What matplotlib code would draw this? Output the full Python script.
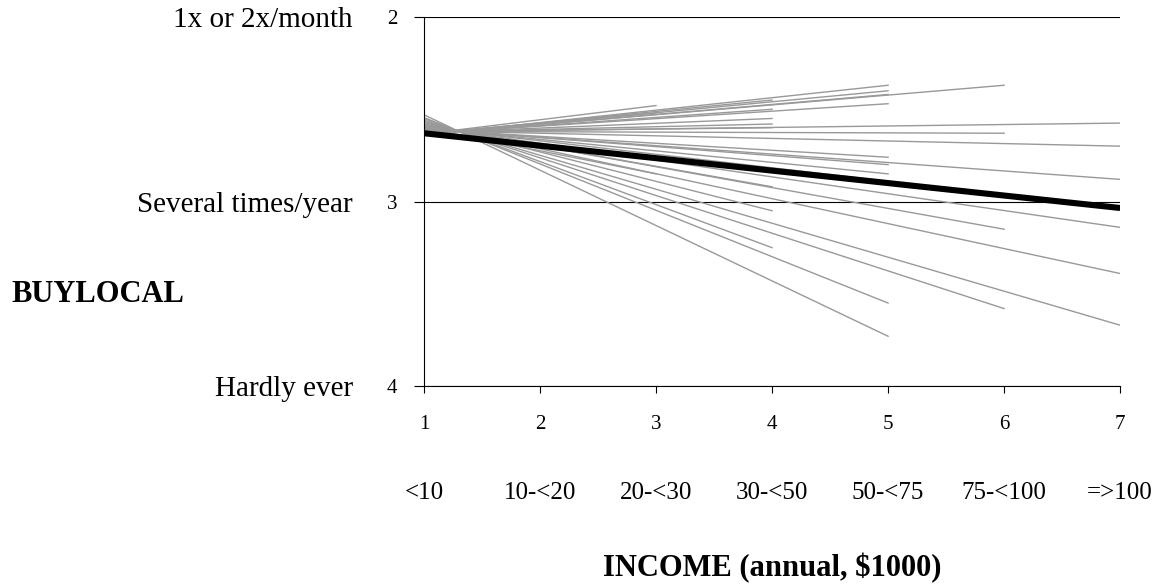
import matplotlib
matplotlib.use("Agg")
import matplotlib.pyplot as plt
import matplotlib.transforms as mtransforms

plt.rcParams['font.family'] = ['Liberation Serif', 'DejaVu Serif']

# individual (grey) lines: start value at income level 1, end level and end value
line_start = [2.622, 2.616, 2.606, 2.593, 2.579, 2.565,
              2.636, 2.620, 2.586, 2.559,
              2.640, 2.638, 2.636, 2.632, 2.609, 2.605, 2.601, 2.598, 2.545, 2.530,
              2.636, 2.633, 2.628, 2.624, 2.622, 2.587, 2.572, 2.550,
              2.634, 2.630, 2.600]
line_end_x = [7, 7, 7, 7, 7, 7,
              6, 6, 6, 6,
              5, 5, 5, 5, 5, 5, 5, 5, 5, 5,
              4, 4, 4, 4, 4, 4, 4, 4,
              3, 3, 3]
line_end_y = [2.575, 2.70, 2.88, 3.14, 3.39, 3.67,
              2.37, 2.63, 3.15, 3.58,
              2.37, 2.40, 2.42, 2.47, 2.76, 2.80, 2.85, 2.89, 3.55, 3.73,
              2.45, 2.50, 2.55, 2.58, 2.60, 2.92, 3.05, 3.25,
              2.48, 2.52, 2.85]

# overall (thick) line
mean_x = [1, 7]
mean_y = [2.63, 3.035]

income_ticks = [1, 2, 3, 4, 5, 6, 7]
income_labels = ['<10', '10-<20', '20-<30', '30-<50', '50-<75', '75-<100', '=>100']
freq_ticks = [2, 3, 4]
freq_labels = ['1x or 2x/month', 'Several times/year', 'Hardly ever']

fig = plt.figure(figsize=(11.68, 5.85), dpi=100)
ax = fig.add_axes([0.363, 0.340, 0.596, 0.631])

for y0, xe, ye in zip(line_start, line_end_x, line_end_y):
    ax.plot([1, xe], [y0, ye], color='0.6', lw=1.0, zorder=2)
ax.plot(mean_x, mean_y, color='black', lw=4.4, solid_capstyle='butt', zorder=3)

ax.set_xlim(1, 7)
ax.set_ylim(4, 2)
ax.set_xticks(income_ticks)
ax.set_yticks(freq_ticks)
ax.tick_params(axis='y', direction='out', length=7, width=0.8, pad=12, labelsize=15)
ax.tick_params(axis='x', direction='out', length=5, width=0.8, pad=16, labelsize=15)
ax.yaxis.grid(True, color='black', lw=0.8)
ax.set_axisbelow(True)
for s in ['top', 'right']:
    ax.spines[s].set_visible(False)
ax.spines['left'].set_linewidth(0.8)
ax.spines['bottom'].set_linewidth(0.8)

# frequency labels left of the numbers (baseline a little below the tick)
ytrans = mtransforms.blended_transform_factory(fig.transFigure, ax.transData)
shift = mtransforms.ScaledTranslation(0, -10 / 100, fig.dpi_scale_trans)
for v, lab in zip(freq_ticks, freq_labels):
    ax.text(0.302, v, lab, transform=ytrans + shift, ha='right', va='baseline',
            fontsize=21)

# income range labels under the numbers
xtrans = mtransforms.blended_transform_factory(ax.transData, fig.transFigure)
for v, lab in zip(income_ticks, income_labels):
    ax.text(v, 0.157, lab, transform=xtrans, ha='center', va='center', fontsize=18)

fig.text(0.010, 0.496, 'BUYLOCAL', fontsize=22, fontweight='bold', ha='left', va='center')
ax.text(4, 0.029, 'INCOME (annual, $1000)', transform=xtrans, fontsize=22,
        fontweight='bold', ha='center', va='center')

fig.savefig('out.png', dpi=100)
